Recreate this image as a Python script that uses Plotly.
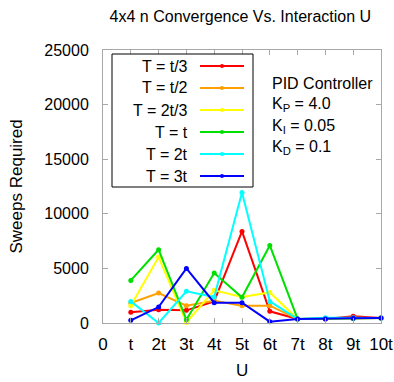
import plotly.graph_objects as go

x_vals = [1, 2, 3, 4, 5, 6, 7, 8, 9, 10]
x_tickvals = [0, 1, 2, 3, 4, 5, 6, 7, 8, 9, 10]
x_ticktext = ["0", "t", "2t", "3t", "4t", "5t", "6t", "7t", "8t", "9t", "10t"]

series_names = ["T = t/3", "T = t/2", "T = 2t/3", "T = t", "T = 2t", "T = 3t"]
series_colors = ["#ff0000", "#ffa000", "#ffff00", "#00e000", "#00ffff", "#0000ff"]

t_third = [980, 1220, 1160, 1980, 8390, 1070, 370, 370, 610, 460]
t_half = [1830, 2745, 1590, 2040, 1590, 1590, 370, 430, 440, 460]
t_two_third = [1590, 6040, 50, 2990, 2380, 2800, 370, 420, 440, 460]
t_one = [3900, 6710, 305, 4575, 2350, 7100, 370, 380, 420, 460]
t_two = [1980, 0, 2900, 2380, 11960, 1980, 370, 490, 490, 460]
t_three = [244, 1460, 5000, 1860, 1860, 120, 370, 370, 430, 460]
series_values = [t_third, t_half, t_two_third, t_one, t_two, t_three]

y_tickvals = [0, 5000, 10000, 15000, 20000, 25000]
y_ticktext = ["0", "5000", "10000", "15000", "20000", "25000"]

FONT = "Liberation Sans, Arial, sans-serif"

fig = go.Figure()
for name, color, vals in zip(series_names, series_colors, series_values):
    fig.add_trace(go.Scatter(
        x=x_vals, y=vals, name=name, mode="lines+markers",
        line=dict(color=color, width=2),
        marker=dict(color=color, size=5),
        cliponaxis=False, showlegend=False,
    ))

# manual legend (symbol on the right, like the reference)
W, H = 278.0, 273.0
def px(xp):
    return (xp - 103) / W
def py(yp):
    return (323 - yp) / H

shapes = [dict(type="rect", xref="paper", yref="paper",
               x0=px(112), x1=px(253), y0=py(187), y1=py(54),
               line=dict(color="black", width=1), fillcolor="white", layer="above")]
annotations = []
for i, (name, color) in enumerate(zip(series_names, series_colors)):
    yy = 66 + i * 22
    annotations.append(dict(text=name, xref="paper", yref="paper",
                            x=px(190), y=py(yy), xanchor="right", yanchor="middle",
                            showarrow=False, font=dict(size=16, color="black", family=FONT)))
    shapes.append(dict(type="line", xref="paper", yref="paper",
                       x0=px(200), x1=px(244), y0=py(yy), y1=py(yy),
                       line=dict(color=color, width=2), layer="above"))
    shapes.append(dict(type="circle", xref="paper", yref="paper",
                       xsizemode="pixel", ysizemode="pixel",
                       xanchor=px(222), yanchor=py(yy),
                       x0=-2, x1=2, y0=-2, y1=2,
                       fillcolor=color, line=dict(color=color, width=0), layer="above"))

pid_lines = ["PID Controller", "K<sub>P</sub> = 4.0", "K<sub>I</sub> = 0.05", "K<sub>D</sub> = 0.1"]
for i, txt in enumerate(pid_lines):
    annotations.append(dict(text=txt, xref="paper", yref="paper",
                            x=px(270), y=py(83 + i * 21.5), xanchor="left", yanchor="middle",
                            showarrow=False, font=dict(size=16, color="black", family=FONT)))

# axis titles placed precisely
annotations.append(dict(text="U", xref="paper", yref="paper", x=0.5, y=py(370),
                        xanchor="center", yanchor="middle", showarrow=False,
                        font=dict(size=17, color="black", family=FONT)))
annotations.append(dict(text="Sweeps Required", xref="paper", yref="paper", x=px(16), y=0.5,
                        xanchor="center", yanchor="middle", textangle=-90, showarrow=False,
                        font=dict(size=17, color="black", family=FONT)))

fig.update_layout(
    width=394, height=382,
    margin=dict(l=103, r=13, t=50, b=59),
    paper_bgcolor="white", plot_bgcolor="white",
    font=dict(family=FONT, size=16, color="black"),
    title=dict(text="4x4 n Convergence Vs. Interaction U", x=0.61, xanchor="center",
               y=1 - 16 / 382, yanchor="middle", font=dict(size=16, family=FONT)),
    shapes=shapes, annotations=annotations,
    showlegend=False,
)
fig.update_xaxes(range=[0, 10], tickvals=x_tickvals, ticktext=x_ticktext, automargin=False,
                 showgrid=False, zeroline=False, showline=True, linecolor="#a8a8a8",
                 mirror="ticks", ticks="inside", ticklen=5, tickcolor="#a8a8a8",
                 tickfont=dict(size=17), ticklabelstandoff=6)
fig.update_yaxes(range=[0, 25000], tickvals=y_tickvals, ticktext=y_ticktext, automargin=False,
                 showgrid=False, zeroline=False, showline=True, linecolor="#a8a8a8",
                 mirror="ticks", ticks="inside", ticklen=5, tickcolor="#a8a8a8",
                 tickfont=dict(size=16), ticklabelstandoff=10)

fig.write_html("out.html")
